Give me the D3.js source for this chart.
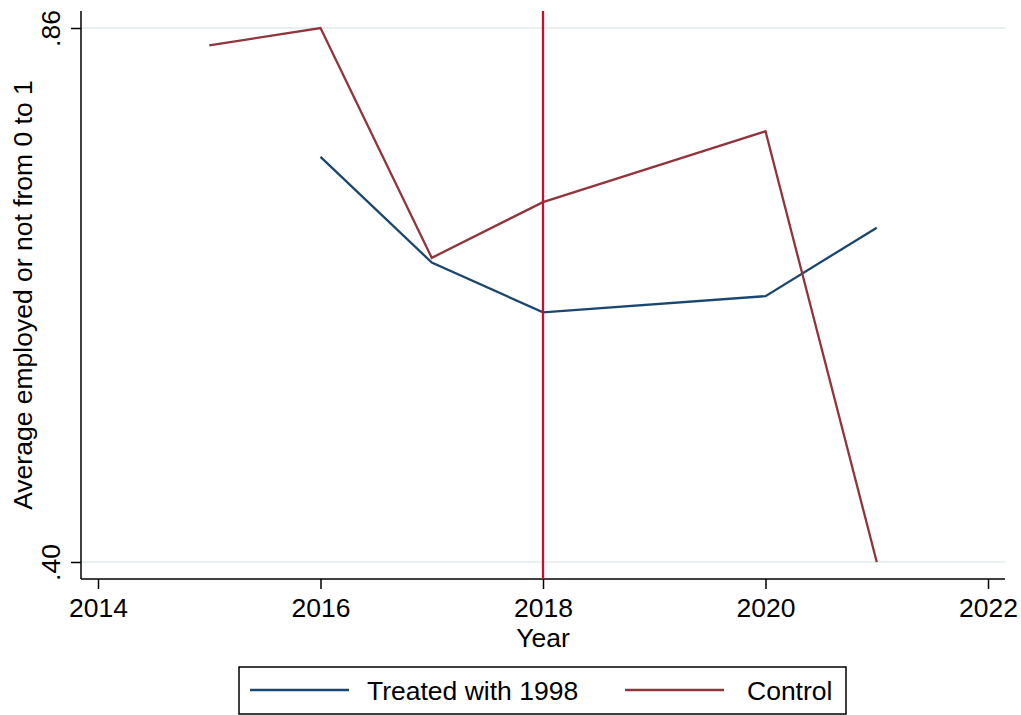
<!DOCTYPE html>
<html><head><meta charset="utf-8">
<script src="https://cdn.jsdelivr.net/npm/d3@7"></script>
<style>body{margin:0;background:#fff}svg{display:block}text{font-family:"Liberation Sans",Arial,sans-serif;fill:#000}</style>
</head><body><svg id="c" width="1021" height="715"></svg>
<script>
const treatedYears = [2016, 2017, 2018, 2020, 2021];
const treatedValues = [0.749, 0.658, 0.615, 0.629, 0.688];
const controlYears = [2015, 2016, 2017, 2018, 2020, 2021];
const controlValues = [0.845, 0.860, 0.662, 0.710, 0.771, 0.400];
const xTicks = [2014, 2016, 2018, 2020, 2022];
const yTicks = [0.40, 0.86];
const yTickLabels = [".40", ".86"];
const seriesNames = ["Treated with 1998", "Control"];
const refYear = 2018;

(function () {
const svg = d3.select("#c");
const x = d3.scaleLinear().domain([2014, 2022]).range([98, 988]);
const y = d3.scaleLinear().domain([0.40, 0.86]).range([562, 28]);
const pL = 81, pR = 1005, pT = 11, pB = 579;
const fs = 26.5;
const ff = '"Liberation Sans",Arial,sans-serif';

// grid lines
svg.append("g").selectAll("line").data(yTicks).join("line")
  .attr("x1", pL).attr("x2", pR).attr("y1", d => y(d)).attr("y2", d => y(d))
  .attr("stroke", "#e8f0f2").attr("stroke-width", 2);

// y axis
const ya = svg.append("g").attr("transform", `translate(${pL},0)`)
  .call(d3.axisLeft(y).tickValues(yTicks).tickSize(10).tickFormat((d, i) => yTickLabels[i]));
ya.select(".domain").attr("d", `M0,${pT}V${pB}`).attr("stroke", "#000").attr("stroke-width", 1.5);
ya.selectAll(".tick line").attr("stroke", "#000").attr("stroke-width", 1.5);
ya.selectAll(".tick text").attr("font-size", fs).attr("font-family", ff)
  .attr("transform", "rotate(-90)").attr("x", 0).attr("y", -21).attr("dy", 0)
  .attr("text-anchor", "middle");

// x axis
const xa = svg.append("g").attr("transform", `translate(0,${pB})`)
  .call(d3.axisBottom(x).tickValues(xTicks).tickSize(10).tickFormat(d3.format("d")));
xa.select(".domain").attr("d", `M${pL},0H${pR}`).attr("stroke", "#000").attr("stroke-width", 1.5);
xa.selectAll(".tick line").attr("stroke", "#000").attr("stroke-width", 1.5);
xa.selectAll(".tick text").attr("font-size", fs).attr("font-family", ff)
  .attr("y", 38).attr("dy", 0);

// titles
svg.append("text").attr("x", x(2018)).attr("y", 647).attr("text-anchor", "middle")
  .attr("font-size", fs).text("Year");
svg.append("text").attr("transform", `translate(32,${(pT + pB) / 2}) rotate(-90)`)
  .attr("text-anchor", "middle").attr("font-size", fs).text("Average employed or not from 0 to 1");

// series
const line = d3.line().x(d => x(d[0])).y(d => y(d[1]));
svg.append("path").datum(treatedYears.map((d, i) => [d, treatedValues[i]]))
  .attr("d", line).attr("fill", "none").attr("stroke", "#1a476f").attr("stroke-width", 2.3);
svg.append("path").datum(controlYears.map((d, i) => [d, controlValues[i]]))
  .attr("d", line).attr("fill", "none").attr("stroke", "#90353b").attr("stroke-width", 2.3);

// reference line
svg.append("line").attr("x1", x(refYear)).attr("x2", x(refYear)).attr("y1", pT).attr("y2", pB)
  .attr("stroke", "#c8102e").attr("stroke-width", 2.3);

// legend
const lg = svg.append("g");
lg.append("rect").attr("x", 239).attr("y", 667).attr("width", 607).attr("height", 47)
  .attr("fill", "#fff").attr("stroke", "#000").attr("stroke-width", 1.5);
const colors = ["#1a476f", "#90353b"];
const lx = [250, 625], tx = [367, 747];
seriesNames.forEach((n, i) => {
  lg.append("line").attr("x1", lx[i]).attr("x2", lx[i] + 99).attr("y1", 690).attr("y2", 690)
    .attr("stroke", colors[i]).attr("stroke-width", 2.3);
  lg.append("text").attr("x", tx[i]).attr("y", 700).attr("font-size", fs).text(n);
});
})();
</script></body></html>
